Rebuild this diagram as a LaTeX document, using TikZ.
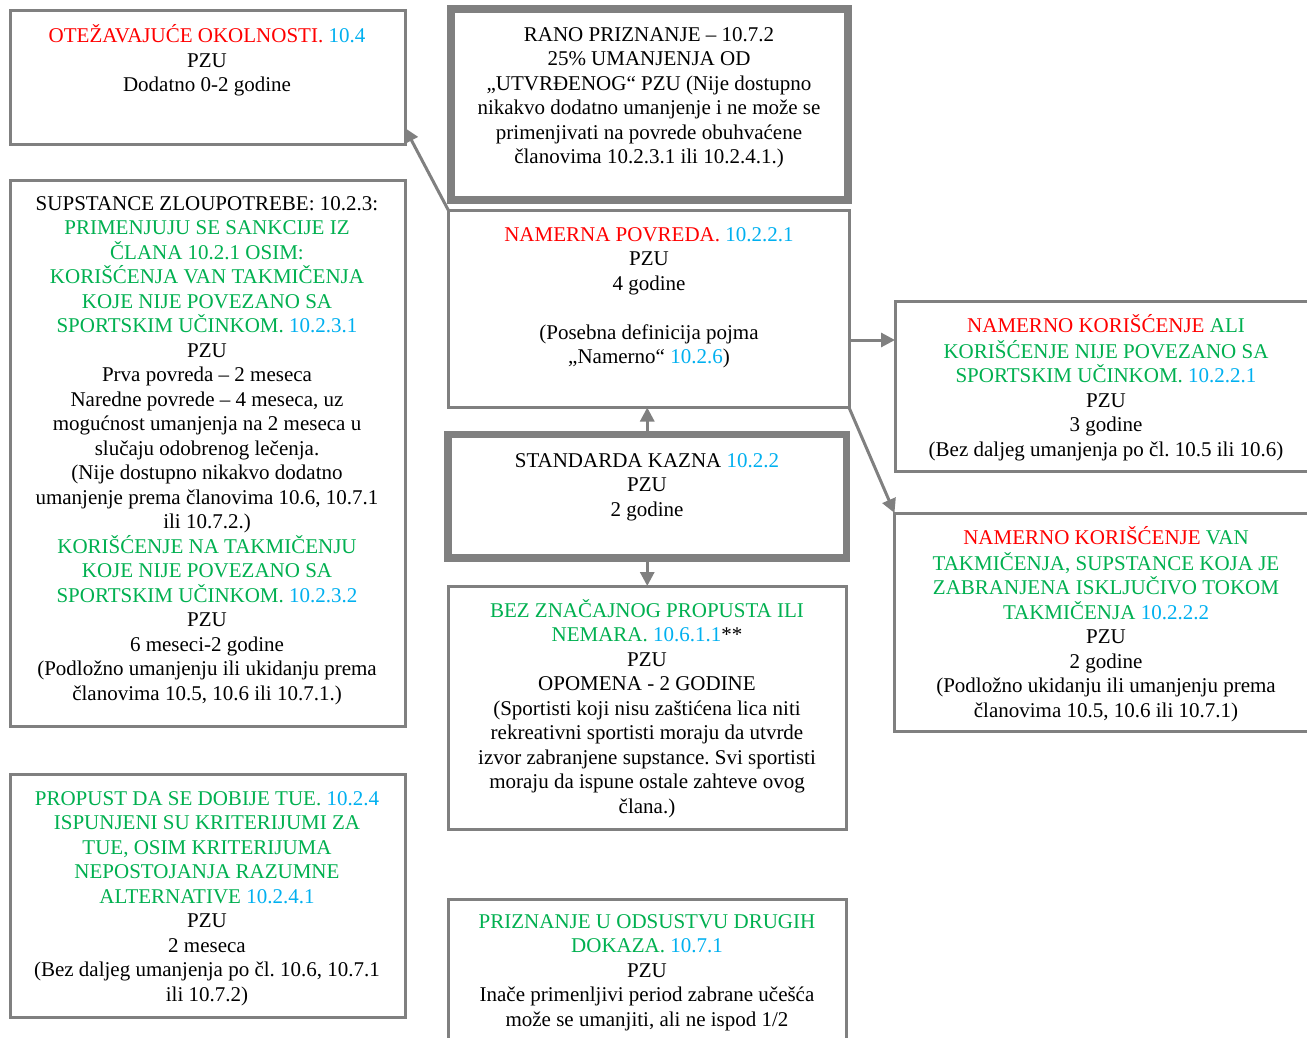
\documentclass[tikz,border=0pt]{standalone}
\usepackage{fontspec}
\setmainfont{Liberation Serif}
\usetikzlibrary{arrows.meta}
\definecolor{cred}{RGB}{255,0,0}
\definecolor{cgreen}{RGB}{0,176,80}
\definecolor{cblue}{RGB}{0,176,240}
\definecolor{cgray}{RGB}{128,128,128}
\newcommand{\rd}[1]{\textcolor{cred}{#1}}
\newcommand{\gr}[1]{\textcolor{cgreen}{#1}}
\newcommand{\bl}[1]{\textcolor{cblue}{#1}}
\frenchspacing
\begin{document}
\begin{tikzpicture}[x=1pt,y=-1pt,
 box/.style={draw=cgray, line width=3pt, rectangle, inner sep=0pt, outer sep=0pt, anchor=north west},
 thickbox/.style={box, line width=7.5pt},
 txt/.style={align=center, inner sep=0pt, anchor=north, yshift=1.5pt, font=\fontsize{21}{24.5}\selectfont},
 arr/.style={draw=cgray, line width=3pt, -{Triangle[length=14pt,width=14pt]}}
]
\useasboundingbox (0,0) rectangle (1307,1038);
\clip (0,0) rectangle (1307,1038);
\fill[white] (0,0) rectangle (1307,1038);

% boxes
\node[box, minimum width=395pt, minimum height=134pt] (b1) at (10,11) {};
\node[thickbox, minimum width=397pt, minimum height=191pt] (b2) at (451,9) {};
\node[box, minimum width=400.5pt, minimum height=197pt] (b3) at (448.5,210.5) {};
\node[thickbox, minimum width=398.5pt, minimum height=123.5pt] (b4) at (448,434.5) {};
\node[box, minimum width=397.5pt, minimum height=243pt] (b5) at (448.5,586) {};
\node[box, minimum width=398pt, minimum height=200pt] (b6) at (448.5,899) {};
\node[box, minimum width=395pt, minimum height=546pt] (b7) at (10,180.5) {};
\node[box, minimum width=395pt, minimum height=242.5pt] (b8) at (10,774.5) {};
\node[box, minimum width=430pt, minimum height=170pt] (b9) at (895,301.5) {};
\node[box, minimum width=430pt, minimum height=218.5pt] (b10) at (894.5,513) {};

% texts
\node[txt] (t1) at (207,25.85) {\strut\rd{OTEŽAVAJUĆE OKOLNOSTI.} \bl{10.4}\\PZU\\Dodatno 0-2 godine};
\node[txt] (t2) at (649,25.35) {\strut RANO PRIZNANJE – 10.7.2\\25\% UMANJENJA OD\\„UTVRĐENOG“ PZU (Nije dostupno\\nikakvo dodatno umanjenje i ne može se\\primenjivati na povrede obuhvaćene\\članovima 10.2.3.1 ili 10.2.4.1.)};
\node[txt] (t3) at (649,225.35) {\strut\rd{NAMERNA POVREDA.} \bl{10.2.2.1}\\PZU\\4 godine\\\mbox{}\\(Posebna definicija pojma\\„Namerno“ \bl{10.2.6})};
\node[txt] (t4) at (647,451.35) {\strut STANDARDA KAZNA \bl{10.2.2}\\PZU\\2 godine};
\node[txt] (t5) at (647,600.35) {\strut\gr{BEZ ZNAČAJNOG PROPUSTA ILI}\\\gr{NEMARA.} \bl{10.6.1.1}**\\PZU\\OPOMENA - 2 GODINE\\(Sportisti koji nisu zaštićena lica niti\\rekreativni sportisti moraju da utvrde\\izvor zabranjene supstance. Svi sportisti\\moraju da ispune ostale zahteve ovog\\člana.)};
\node[txt] (t6) at (647,912.35) {\strut\gr{PRIZNANJE U ODSUSTVU DRUGIH}\\\gr{DOKAZA.} \bl{10.7.1}\\PZU\\Inače primenljivi period zabrane učešća\\može se umanjiti, ali ne ispod 1/2};
\node[txt] (t7) at (207,194.35) {\strut SUPSTANCE ZLOUPOTREBE: 10.2.3:\\\gr{PRIMENJUJU SE SANKCIJE IZ}\\\gr{ČLANA 10.2.1 OSIM:}\\\gr{KORIŠĆENJA VAN TAKMIČENJA}\\\gr{KOJE NIJE POVEZANO SA}\\\gr{SPORTSKIM UČINKOM.} \bl{10.2.3.1}\\PZU\\Prva povreda – 2 meseca\\Naredne povrede – 4 meseca, uz\\mogućnost umanjenja na 2 meseca u\\slučaju odobrenog lečenja.\\(Nije dostupno nikakvo dodatno\\umanjenje prema članovima 10.6, 10.7.1\\ili 10.7.2.)\\\gr{KORIŠĆENJE NA TAKMIČENJU}\\\gr{KOJE NIJE POVEZANO SA}\\\gr{SPORTSKIM UČINKOM.} \bl{10.2.3.2}\\PZU\\6 meseci-2 godine\\(Podložno umanjenju ili ukidanju prema\\članovima 10.5, 10.6 ili 10.7.1.)};
\node[txt] (t8) at (207,789.35) {\strut\gr{PROPUST DA SE DOBIJE TUE.} \bl{10.2.4}\\\gr{ISPUNJENI SU KRITERIJUMI ZA}\\\gr{TUE, OSIM KRITERIJUMA}\\\gr{NEPOSTOJANJA RAZUMNE}\\\gr{ALTERNATIVE} \bl{10.2.4.1}\\PZU\\2 meseca\\(Bez daljeg umanjenja po čl. 10.6, 10.7.1\\ili 10.7.2)};
\node[txt] (t9) at (1106,315.35) {\strut\rd{NAMERNO KORIŠĆENJE} \gr{ALI}\\\gr{KORIŠĆENJE NIJE POVEZANO SA}\\\gr{SPORTSKIM UČINKOM.} \bl{10.2.2.1}\\PZU\\3 godine\\(Bez daljeg umanjenja po čl. 10.5 ili 10.6)};
\node[txt] (t10) at (1106,527.35) {\strut\rd{NAMERNO KORIŠĆENJE} \gr{VAN}\\\gr{TAKMIČENJA, SUPSTANCE KOJA JE}\\\gr{ZABRANJENA ISKLJUČIVO TOKOM}\\\gr{TAKMIČENJA} \bl{10.2.2.2}\\PZU\\2 godine\\(Podložno ukidanju ili umanjenju prema\\članovima 10.5, 10.6 ili 10.7.1)};

% connectors
\coordinate (e1) at ([yshift=17pt]b1.south east);
\draw[arr] (b3.north west) -- (e1);
\coordinate (s2) at ([yshift=-31pt]b3.east);
\draw[arr] (s2) -- (s2 -| b9.west);
\draw[arr] (b3.south east) -- (b10.north west);
\draw[arr] (b4.north) -- (b4.north |- b3.south);
\draw[arr] (b4.south) -- (b4.south |- b5.north);
\end{tikzpicture}
\end{document}
